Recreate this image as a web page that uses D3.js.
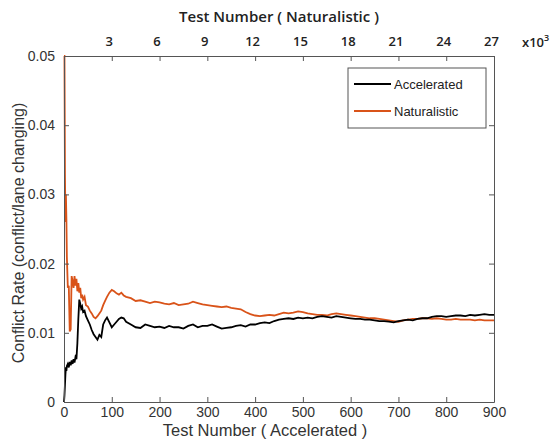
<!DOCTYPE html>
<html>
<head>
<meta charset="utf-8">
<script src="https://cdn.jsdelivr.net/npm/d3@7"></script>
<style>
  body { margin: 0; background: #fff; }
  svg { display: block; }
</style>
</head>
<body>
<div id="chart"></div>
<script>
// test index on the accelerated axis
const testIndex = [0,1,2,3,4,5,6,8,10,12,14,16,18,20,22,24,26,28,30,32,34,36,38,40,43,46,50,54,58,62,66,70,74,78,82,86,90,95,100,105,110,115,120,125,
  130,140,150,160,170,180,190,200,210,220,230,240,250,260,270,280,290,300,310,320,330,340,350,360,370,380,390,400,
  410,420,430,440,450,460,470,480,490,500,510,520,530,540,550,560,570,580,590,600,610,620,630,640,650,660,670,680,690,700,
  710,720,730,740,750,760,770,780,790,800,810,820,830,840,850,860,870,880,890,900];

const accelerated = [0,0.001,0.0025,0.004,0.005,0.0045,0.0052,0.0055,0.005,0.0058,0.0053,0.006,0.0055,0.0062,0.0057,0.0065,0.0062,0.0085,0.012,0.0148,0.0142,0.0135,0.0138,0.013,0.0132,0.0124,0.0118,0.0112,0.0104,0.0098,0.0094,0.009,0.0097,0.0094,0.0112,0.0118,0.0122,0.0115,0.0108,0.0112,0.0116,0.012,0.0122,0.0121,
  0.0116,0.0112,0.0108,0.0107,0.0112,0.011,0.0108,0.0109,0.0107,0.011,0.0108,0.0108,0.0106,0.011,0.0112,0.0108,0.011,0.011,0.0112,0.0109,0.0106,0.0107,0.0108,0.011,0.0111,0.0109,0.0112,0.0112,
  0.0114,0.0115,0.0114,0.0117,0.0119,0.012,0.0121,0.012,0.0122,0.0121,0.0122,0.0121,0.0123,0.0124,0.0123,0.0122,0.0124,0.0123,0.0122,0.0121,0.012,0.012,0.0119,0.0119,0.0118,0.0117,0.0117,0.0116,0.0115,0.0117,
  0.0118,0.0119,0.0118,0.012,0.0121,0.0121,0.0123,0.0124,0.0124,0.0123,0.0124,0.0125,0.0125,0.0124,0.0126,0.0125,0.0126,0.0127,0.0126,0.0126];

const naturalistic = [0.05,0.05,0.033,0.026,0.03,0.0265,0.021,0.0165,0.0168,0.0102,0.0105,0.0182,0.0175,0.0165,0.0182,0.0168,0.0178,0.016,0.0172,0.0158,0.0165,0.015,0.0155,0.0148,0.0152,0.014,0.0138,0.0132,0.0128,0.0123,0.0121,0.0124,0.0128,0.0132,0.014,0.0146,0.0152,0.0158,0.0162,0.016,0.0157,0.0155,0.0158,0.0154,
  0.0152,0.015,0.0146,0.0147,0.0145,0.0143,0.0145,0.0144,0.0142,0.0141,0.0143,0.014,0.0141,0.0142,0.0145,0.0143,0.0141,0.014,0.0139,0.0138,0.0137,0.0138,0.0136,0.0135,0.0134,0.013,0.0127,0.0125,
  0.0124,0.0125,0.0126,0.0125,0.0127,0.0129,0.0128,0.0129,0.0131,0.013,0.0128,0.0127,0.0126,0.0126,0.0125,0.0127,0.0128,0.0127,0.0126,0.0125,0.0124,0.0123,0.0122,0.0121,0.0121,0.012,0.0119,0.0118,0.0117,0.0116,
  0.0118,0.0119,0.012,0.012,0.0121,0.0121,0.012,0.0121,0.012,0.0119,0.0119,0.012,0.0119,0.0119,0.0119,0.0118,0.0119,0.0118,0.0118,0.0118];

const bottomTicks = [0,100,200,300,400,500,600,700,800,900];
const topTicks = [3,6,9,12,15,18,21,24,27];
const yTicks = [0,0.01,0.02,0.03,0.04,0.05];

const width = 555, height = 442;
const margin = { top: 56, right: 61, bottom: 40, left: 64 };
const plotW = width - margin.left - margin.right;
const plotH = height - margin.top - margin.bottom;

const svg = d3.select('#chart').append('svg')
  .attr('width', width)
  .attr('height', height);

const g = svg.append('g').attr('transform', `translate(${margin.left},${margin.top})`);

const x = d3.scaleLinear().domain([0, 900]).range([0, plotW]);
const xTop = d3.scaleLinear().domain([0, 27]).range([0, plotW]);
const y = d3.scaleLinear().domain([0, 0.05]).range([plotH, 0]);

const axisColor = '#555';
const textColor = '#333';

// lines
const line = d3.line()
  .x((d, i) => x(testIndex[i]))
  .y(d => y(d));

g.append('path')
  .datum(naturalistic)
  .attr('fill', 'none')
  .attr('stroke', '#D95319')
  .attr('stroke-width', 1.8)
  .attr('d', line);

g.append('path')
  .datum(accelerated)
  .attr('fill', 'none')
  .attr('stroke', '#000')
  .attr('stroke-width', 1.8)
  .attr('d', line);

// axes (matlab style, ticks inside)
function styleAxis(sel) {
  sel.select('.domain').attr('stroke', axisColor);
  sel.selectAll('.tick line').attr('stroke', axisColor);
  sel.selectAll('text').attr('fill', textColor);
}

g.append('g')
  .attr('transform', `translate(0,${plotH})`)
  .call(d3.axisBottom(x).tickValues(bottomTicks).tickSize(-5).tickSizeOuter(0).tickPadding(5))
  .call(styleAxis)
  .selectAll('text')
  .style('font', '14px "Liberation Sans", Arial, sans-serif');

g.append('g')
  .call(d3.axisTop(xTop).tickValues(topTicks).tickSize(-5).tickSizeOuter(0).tickPadding(10))
  .call(styleAxis)
  .selectAll('text')
  .attr('fill', '#222')
  .attr('dx', -3)
  .style('font', '600 13px "Open Sans", sans-serif');

g.append('g')
  .call(d3.axisLeft(y).tickValues(yTicks).tickFormat(d => d === 0 ? '0' : d3.format('.2f')(d)).tickSize(-5).tickSizeOuter(0).tickPadding(9))
  .call(styleAxis)
  .selectAll('text')
  .style('font', '14px "Liberation Sans", Arial, sans-serif');

g.append('g')
  .attr('transform', `translate(${plotW},0)`)
  .call(d3.axisRight(y).tickValues(yTicks).tickSize(-5).tickSizeOuter(0).tickFormat(''))
  .call(styleAxis);

// x10^3 exponent label
const expo = svg.append('text')
  .attr('x', 522)
  .attr('y', 47)
  .attr('fill', '#222')
  .style('font', '600 13px "Open Sans", sans-serif')
  .text('x10');
expo.append('tspan')
  .attr('dy', -6)
  .style('font-size', '9px')
  .text('3');

// axis titles
svg.append('text')
  .attr('x', margin.left + plotW / 2)
  .attr('y', 22)
  .attr('text-anchor', 'middle')
  .attr('fill', '#222')
  .style('font', '600 15px "Open Sans", sans-serif')
  .text('Test Number ( Naturalistic )');

svg.append('text')
  .attr('x', margin.left + plotW / 2 - 14)
  .attr('y', 436)
  .attr('text-anchor', 'middle')
  .attr('fill', textColor)
  .style('font', '16.5px "Liberation Sans", Arial, sans-serif')
  .text('Test Number ( Accelerated )');

svg.append('text')
  .attr('transform', `translate(24,${margin.top + plotH / 2 + 4}) rotate(-90)`)
  .attr('text-anchor', 'middle')
  .attr('fill', textColor)
  .style('font', '16px "Liberation Sans", Arial, sans-serif')
  .text('Conflict Rate (conflict/lane changing)');

// legend
const legendItems = [
  { name: 'Accelerated', color: '#000' },
  { name: 'Naturalistic', color: '#D95319' }
];
const legend = svg.append('g').attr('transform', 'translate(348,68)');
legend.append('rect')
  .attr('width', 138)
  .attr('height', 60)
  .attr('fill', '#fff')
  .attr('stroke', axisColor)
  .attr('stroke-width', 1);
const item = legend.selectAll('g.item')
  .data(legendItems)
  .join('g')
  .attr('class', 'item')
  .attr('transform', (d, i) => `translate(0,${16 + i * 27})`);
item.append('line')
  .attr('x1', 6).attr('x2', 43)
  .attr('stroke', d => d.color)
  .attr('stroke-width', 1.8);
item.append('text')
  .attr('x', 46)
  .attr('dy', '0.35em')
  .attr('fill', '#222')
  .style('font', '13px "Liberation Sans", Arial, sans-serif')
  .text(d => d.name);
</script>
</body>
</html>
